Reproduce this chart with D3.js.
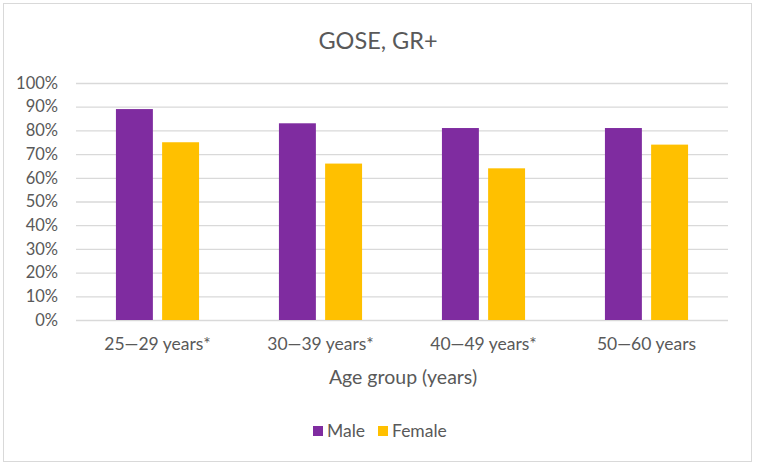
<!DOCTYPE html>
<html><head><meta charset="utf-8">
<script src="https://cdn.jsdelivr.net/npm/d3@7"></script>
<style>body{margin:0;background:#fff;} text{font-family:Lato, "Open Sans", sans-serif;}</style>
</head><body>
<svg id="chart" width="758" height="470"></svg>
<script>
const categories = ["25—29 years*", "30—39 years*", "40—49 years*", "50—60 years"];
const seriesNames = ["Male", "Female"];
const maleValues = [0.89, 0.83, 0.81, 0.81];
const femaleValues = [0.75, 0.66, 0.64, 0.74];
const yTicks = [0, 0.1, 0.2, 0.3, 0.4, 0.5, 0.6, 0.7, 0.8, 0.9, 1.0];
const colors = ["#7F2CA0", "#FFC000"];

const svg = d3.select("#chart");
const plotLeft = 76, plotRight = 728, plotTop = 83, plotBottom = 320;

svg.append("rect").attr("x", 3.5).attr("y", 3.5).attr("width", 748).attr("height", 458)
  .attr("fill", "#fff").attr("stroke", "#D9D9D9").attr("stroke-width", 1);

const x0 = d3.scaleBand().domain(categories).range([plotLeft, plotRight]).paddingInner(0.49).paddingOuter(0.245);
const x1 = d3.scaleBand().domain(seriesNames).range([0, x0.bandwidth()]).paddingInner(0.2);
const y = d3.scaleLinear().domain([0, 1]).range([plotBottom, plotTop]);

const yAxis = d3.axisLeft(y).tickValues(yTicks).tickFormat(d3.format(".0%")).tickSize(-(plotRight - plotLeft)).tickPadding(18);
const gy = svg.append("g").attr("transform", `translate(${plotLeft},0)`).call(yAxis);
gy.select(".domain").remove();
gy.selectAll(".tick line").attr("stroke", "#D9D9D9").attr("stroke-width", 1.3);
gy.selectAll(".tick text").attr("fill", "#595959").attr("font-size", "16.5px").attr("font-family", "Lato, sans-serif");

const data = categories.map((c, i) => ({cat: c, vals: [maleValues[i], femaleValues[i]]}));
const groups = svg.append("g").selectAll("g").data(data).join("g")
  .attr("transform", d => `translate(${x0(d.cat)},0)`);
groups.selectAll("rect").data(d => d.vals.map((v, j) => ({name: seriesNames[j], v, j}))).join("rect")
  .attr("x", d => x1(d.name)).attr("width", x1.bandwidth())
  .attr("y", d => y(d.v)).attr("height", d => y(0) - y(d.v))
  .attr("fill", d => colors[d.j]);

const xAxis = d3.axisBottom(x0).tickSize(0).tickPadding(18);
const gx = svg.append("g").attr("transform", `translate(0,${plotBottom})`).call(xAxis);
gx.select(".domain").remove();
gx.selectAll(".tick text").attr("fill", "#595959").attr("font-size", "17.5px").attr("font-family", "Lato, sans-serif");

svg.append("text").attr("x", 403).attr("y", 384).attr("text-anchor", "middle")
  .attr("fill", "#595959").attr("font-size", "19.5px").text("Age group (years)");

svg.append("text").attr("x", 378).attr("y", 48.5).attr("text-anchor", "middle")
  .attr("fill", "#595959").attr("font-size", "23.5px").text("GOSE, GR+");

const legend = svg.append("g");
const legendItems = [{name: "Male", x: 313}, {name: "Female", x: 378}];
legendItems.forEach((it, i) => {
  legend.append("rect").attr("x", it.x).attr("y", 426).attr("width", 10).attr("height", 10).attr("fill", colors[i]);
  legend.append("text").attr("x", it.x + 14).attr("y", 437).attr("fill", "#595959").attr("font-size", "17.5px").text(it.name);
});
</script>
</body></html>
